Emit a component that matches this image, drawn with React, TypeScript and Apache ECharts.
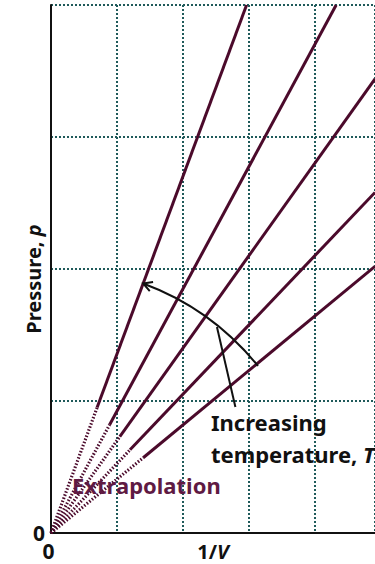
import React, { useEffect, useRef } from 'react';
import * as echarts from 'echarts';

// Axis extents (1/V runs past the right edge of the frame)
const xMax = 4.92;
const yMax = 4;
const tickLabels = ['0'];

// Isotherms p = k(1/V): measured part from (solidStartX, solidStartP) to (solidEndX, solidEndP),
// extrapolated back to the origin with a dotted line
const isothermNames = ['T5', 'T4', 'T3', 'T2', 'T1'];
const solidStartX = [0.70, 0.89, 1.045, 1.2, 1.4];
const solidStartP = [0.95, 0.82, 0.73, 0.63, 0.57];
const solidEndX = [2.97, 4.33, 4.92, 4.92, 4.92];
const solidEndP = [4.0, 4.0, 3.44, 2.58, 2.02];

// "Increasing temperature" arrow: arc about the origin from tail to tip, plus a pointer from the caption
const arrowTip = [1.40, 1.89];
const arrowTail = [3.18, 1.28];
const pointerFrom = [2.80, 0.955];
const pointerTo = [2.52, 1.56];

const FONT = '"Noto Sans", "Open Sans", sans-serif';
const LINE = '#4b0a2b';
const EXTRA = '#5f1a43';
const GRIDC = '#1f5a5a';
const INK = '#111111';

export default function App() {
  const ref = useRef<HTMLDivElement>(null);

  useEffect(() => {
    if (!ref.current) return;
    const chart = echarts.init(ref.current, undefined, { renderer: 'svg' });

    const series: any[] = [];
    isothermNames.forEach((name, i) => {
      series.push({
        name: name + ' extrapolated',
        type: 'line',
        symbol: 'none',
        silent: true,
        data: [[0, 0], [solidStartX[i], solidStartP[i]]],
        lineStyle: { color: LINE, width: 3.2, type: [1.5, 1.8] },
        z: 3,
      });
      series.push({
        name,
        type: 'line',
        symbol: 'none',
        silent: true,
        data: [[solidStartX[i], solidStartP[i]], [solidEndX[i], solidEndP[i]]],
        lineStyle: { color: LINE, width: 3 },
        z: 3,
      });
    });

    const axisText = { fontFamily: FONT, fontWeight: 'bold', fontSize: 21, color: INK };

    chart.setOption({
      animation: false,
      backgroundColor: '#ffffff',
      grid: { left: 51, right: 0, top: 5, bottom: 31, outerBoundsMode: 'none', containLabel: false },
      xAxis: {
        type: 'value',
        min: 0,
        max: xMax,
        interval: 1,
        name: '1/{i|V}',
        nameLocation: 'middle',
        nameGap: 8,
        nameMoveOverlap: false,
        nameTextStyle: {
          ...axisText,
          fontSize: 20,
          verticalAlign: 'top',
          rich: { i: { ...axisText, fontSize: 20, fontStyle: 'italic' } },
        },
        axisLine: { show: true, lineStyle: { color: INK, width: 2 } },
        axisTick: { show: false },
        axisLabel: {
          ...axisText,
          margin: 7,
          padding: [0, 5, 0, 0],
          showMaxLabel: false,
          formatter: (v: number) => (v === 0 ? tickLabels[0] : ''),
        },
        splitLine: { show: true, lineStyle: { color: GRIDC, width: 2, type: [2, 2] } },
      },
      yAxis: {
        type: 'value',
        min: 0,
        max: yMax,
        interval: 1,
        name: 'Pressure, {i|p}',
        nameLocation: 'middle',
        nameGap: 8,
        nameMoveOverlap: false,
        nameTextStyle: {
          ...axisText,
          fontSize: 20,
          padding: [0, 20, 0, 0],
          rich: { i: { ...axisText, fontSize: 20, fontStyle: 'italic' } },
        },
        axisLine: { show: true, lineStyle: { color: INK, width: 2 } },
        axisTick: { show: false },
        axisLabel: {
          ...axisText,
          margin: 6,
          formatter: (v: number) => (v === 0 ? tickLabels[0] : ''),
        },
        splitLine: { show: true, lineStyle: { color: GRIDC, width: 2, type: [2, 2] } },
      },
      series,
    });

    // Arrow and captions placed from axis coordinates
    const px = (p: number[]) => chart.convertToPixel({ gridIndex: 0 }, p) as number[];
    const o = px([0, 0]);
    const tip = px(arrowTip);
    const tail = px(arrowTail);
    const r = Math.hypot(tip[0] - o[0], tip[1] - o[1]);
    const aTip = Math.atan2(tip[1] - o[1], tip[0] - o[0]);
    const aTail = Math.atan2(tail[1] - o[1], tail[0] - o[0]);
    const tipPt = [o[0] + r * Math.cos(aTip), o[1] + r * Math.sin(aTip)];
    // direction of travel at the tip (towards smaller angles)
    const dx = Math.sin(aTip);
    const dy = -Math.cos(aTip);
    const wing = (ang: number) => {
      const c = Math.cos(ang), s = Math.sin(ang);
      const bx = -(dx * c - dy * s);
      const by = -(dx * s + dy * c);
      return [tipPt[0] + 10 * bx, tipPt[1] + 10 * by];
    };
    const pf = px(pointerFrom);
    const pt = px(pointerTo);

    chart.setOption({
      graphic: [
        {
          type: 'arc',
          silent: true,
          z: 10,
          shape: { cx: o[0], cy: o[1], r, startAngle: aTip, endAngle: aTail, clockwise: true },
          style: { stroke: INK, lineWidth: 2, fill: null },
        },
        {
          type: 'polyline',
          silent: true,
          z: 10,
          shape: { points: [wing(0.5), tipPt, wing(-0.5)] },
          style: { stroke: INK, lineWidth: 2, fill: null },
        },
        {
          type: 'line',
          silent: true,
          z: 10,
          shape: { x1: pf[0], y1: pf[1], x2: pt[0], y2: pt[1] },
          style: { stroke: INK, lineWidth: 2 },
        },
        {
          type: 'text',
          silent: true,
          z: 11,
          x: 211,
          y: 422,
          style: {
            text: 'Increasing',
            font: 'bold 22px ' + FONT,
            fill: INK,
            verticalAlign: 'middle',
            align: 'left',
          },
        },
        {
          type: 'text',
          silent: true,
          z: 11,
          x: 211,
          y: 454,
          style: {
            text: 'temperature, {i|T}',
            font: 'bold 22px ' + FONT,
            fill: INK,
            verticalAlign: 'middle',
            align: 'left',
            rich: {
              i: { fontStyle: 'italic', fontWeight: 'bold', fontSize: 22, fontFamily: FONT, fill: INK },
            },
          },
        },
        {
          type: 'text',
          silent: true,
          z: 11,
          x: 72,
          y: 485,
          style: {
            text: 'Extrapolation',
            font: 'bold 22px ' + FONT,
            fill: EXTRA,
            verticalAlign: 'middle',
            align: 'left',
          },
        },
      ],
    });

    return () => chart.dispose();
  }, []);

  return (
    <div
      ref={ref}
      style={{ position: 'fixed', left: 0, top: 0, width: 375, height: 564, background: '#fff' }}
    />
  );
}
